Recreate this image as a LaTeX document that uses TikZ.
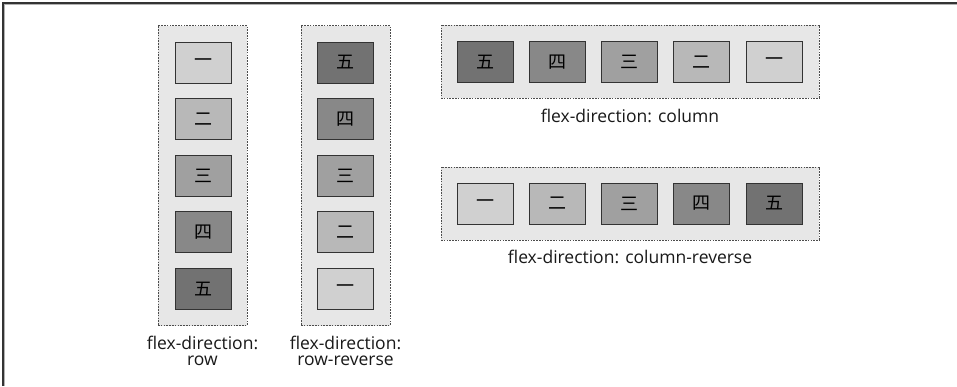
\documentclass[tikz,border=0pt]{standalone}
\usepackage{fontspec}
\setmainfont{Open Sans}
\newfontfamily\cjk{Noto Sans CJK SC}
\definecolor{cA}{HTML}{D0D0D0}
\definecolor{cB}{HTML}{B8B8B8}
\definecolor{cC}{HTML}{A0A0A0}
\definecolor{cD}{HTML}{888888}
\definecolor{cE}{HTML}{727272}
\definecolor{contfill}{HTML}{E7E7E7}
\definecolor{framec}{HTML}{333333}
\tikzset{
  cont/.style={draw=black!70, line width=0.8pt, dash pattern=on 1.6pt off 1.2pt, fill=contfill, inner sep=0pt},
  vcont/.style={cont, minimum width=89pt, minimum height=300pt},
  hcont/.style={cont, minimum width=378pt, minimum height=73pt},
  item/.style={draw=black!80, line width=0.9pt, minimum width=56pt, minimum height=41pt, inner sep=0pt, font=\cjk\fontsize{18}{18}\selectfont},
  lbl/.style={font=\fontsize{17.5}{16.5}\selectfont, align=center, inner sep=0pt, text=black!90}
}
\begin{document}
\begin{tikzpicture}[x=1pt,y=-1pt]
\useasboundingbox (0,0) rectangle (957,386);
\fill[white] (0,0) rectangle (957,386);
\draw[framec, line width=1.6pt] (3,386) -- (3,3) -- (957,3);
\draw[black!30, line width=0.8pt] (4.6,386) -- (4.6,4.6) -- (957,4.6);

% containers
\node[vcont] (c1) at (202.5,175.5) {};
\node[vcont] (c2) at (345.5,175.5) {};
\node[hcont] (c3) at (630,61.5) {};
\node[hcont] (c4) at (630,203.5) {};

% row
\node[item, fill=cA] (r1) at (203,62.5) {一};
\node[item, fill=cB] (r2) at (203,119.1) {二};
\node[item, fill=cC] (r3) at (203,175.7) {三};
\node[item, fill=cD] (r4) at (203,232.3) {四};
\node[item, fill=cE] (r5) at (203,288.9) {五};

% row-reverse
\node[item, fill=cE] (rr5) at (345,62.5) {五};
\node[item, fill=cD] (rr4) at (345,119.1) {四};
\node[item, fill=cC] (rr3) at (345,175.7) {三};
\node[item, fill=cB] (rr2) at (345,232.3) {二};
\node[item, fill=cA] (rr1) at (345,288.9) {一};

% column
\node[item, fill=cE] (k5) at (485,62) {五};
\node[item, fill=cD] (k4) at (557.3,62) {四};
\node[item, fill=cC] (k3) at (629.6,62) {三};
\node[item, fill=cB] (k2) at (701.9,62) {二};
\node[item, fill=cA] (k1) at (774.2,62) {一};

% column-reverse
\node[item, fill=cA] (kr1) at (485,203.5) {一};
\node[item, fill=cB] (kr2) at (557.3,203.5) {二};
\node[item, fill=cC] (kr3) at (629.6,203.5) {三};
\node[item, fill=cD] (kr4) at (701.9,203.5) {四};
\node[item, fill=cE] (kr5) at (774.2,203.5) {五};

% labels
\node[lbl] (l1) at (202.5,351) {flex-direction:\\row};
\node[lbl] (l2) at (345.5,351) {flex-direction:\\row-reverse};
\node[lbl] (l3) at (630,116) {flex-direction: column};
\node[lbl] (l4) at (630,257) {flex-direction: column-reverse};
\end{tikzpicture}
\end{document}
